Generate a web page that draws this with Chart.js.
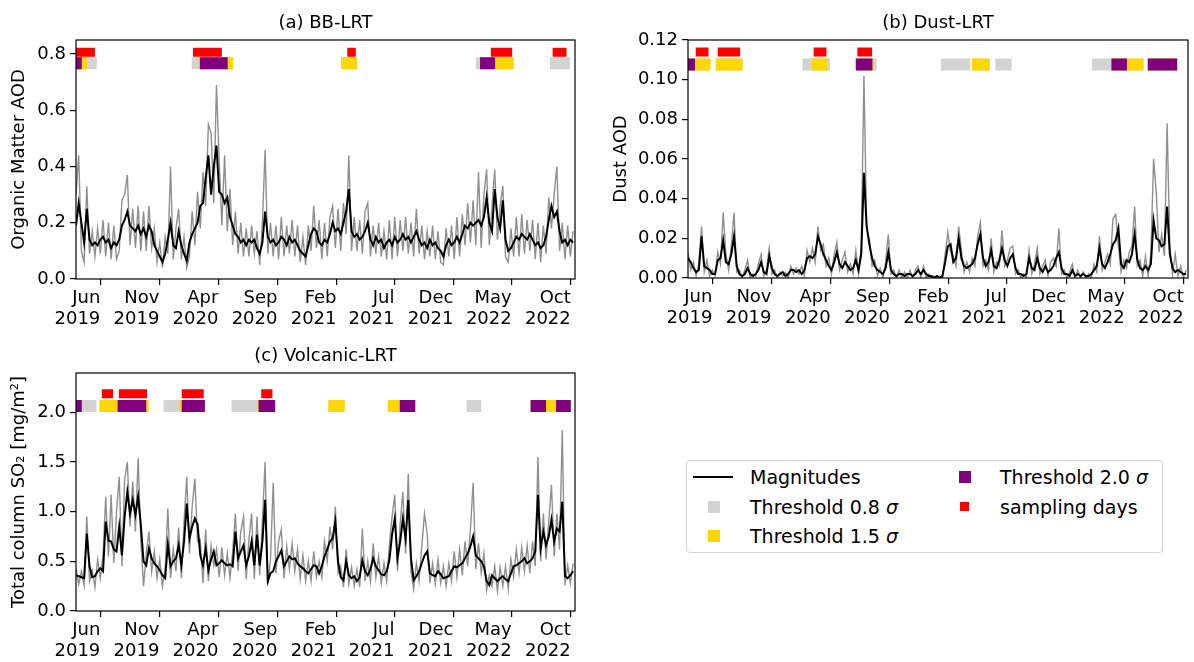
<!DOCTYPE html>
<html>
<head>
<meta charset="utf-8">
<script src="https://cdn.jsdelivr.net/npm/chart.js@4.4.1/dist/chart.umd.min.js"></script>
<style>
  body { margin: 0; background: #fff; }
  #wrap { position: relative; width: 1194px; height: 662px; font-family: 'DejaVu Sans', sans-serif; color: #000; }
  #wrap canvas { position: absolute; }
  #legend { position: absolute; left: 686px; top: 460px; width: 477px; height: 93px; box-sizing: border-box;
            border: 1px solid #d4d4d4; border-radius: 4px; font-size: 19px; }
  #legend .sw { position: absolute; }
  #legend .lbl { position: absolute; height: 24px; line-height: 24px; white-space: nowrap; }
</style>
</head>
<body>
<div id="wrap">
  <canvas id="bbChart" width="597" height="331" style="left:0;top:0"></canvas>
  <canvas id="dustChart" width="597" height="331" style="left:597px;top:0"></canvas>
  <canvas id="volcChart" width="597" height="331" style="left:0;top:331px"></canvas>
  <div id="legend">
    <div class="sw" style="left:6px;top:15px;width:40px;height:2px;background:#000"></div>
    <div class="lbl" style="left:63px;top:4px">Magnitudes</div>
    <div class="sw" style="left:21px;top:40px;width:12px;height:12px;background:#d3d3d3"></div>
    <div class="lbl" style="left:63px;top:34px">Threshold 0.8 <i>σ</i></div>
    <div class="sw" style="left:21px;top:69px;width:12px;height:12px;background:#ffd700"></div>
    <div class="lbl" style="left:63px;top:63px">Threshold 1.5 <i>σ</i></div>
    <div class="sw" style="left:272px;top:10px;width:12px;height:12px;background:#800080"></div>
    <div class="lbl" style="left:313px;top:4px">Threshold 2.0 <i>σ</i></div>
    <div class="sw" style="left:273px;top:41px;width:9px;height:9px;background:#ff0000"></div>
    <div class="lbl" style="left:313px;top:34px">sampling days</div>
  </div>
</div>
<script>
Chart.defaults.font.family = "'DejaVu Sans', sans-serif";
Chart.defaults.font.size = 18;
Chart.defaults.color = '#000';
Chart.defaults.animation = false;

// weekly samples, day 0 = 30 Mar 2019
const weekDays = Array.from({ length: 185 }, (_, i) => i * 7);
const tickDays = [63, 216, 369, 522, 675, 825, 978, 1129, 1282];
const tickLabels = [['Jun', '2019'], ['Nov', '2019'], ['Apr', '2020'], ['Sep', '2020'], ['Feb', '2021'],
                    ['Jul', '2021'], ['Dec', '2021'], ['May', '2022'], ['Oct', '2022']];

// (a) BB-LRT, organic matter AOD
const bbMagnitude = [
  0.19,0.27,0.20,0.13,0.25,0.14,0.12,0.13,0.12,0.14,
  0.15,0.13,0.14,0.11,0.13,0.12,0.14,0.19,0.21,0.24,
  0.19,0.18,0.17,0.19,0.16,0.18,0.15,0.19,0.17,0.12,
  0.10,0.08,0.06,0.09,0.14,0.20,0.12,0.11,0.17,0.12,
  0.09,0.065,0.13,0.16,0.18,0.20,0.26,0.27,0.36,0.44,
  0.30,0.40,0.475,0.31,0.30,0.27,0.29,0.22,0.19,0.16,
  0.15,0.13,0.14,0.12,0.14,0.13,0.14,0.11,0.09,0.13,
  0.24,0.15,0.13,0.14,0.12,0.13,0.15,0.14,0.12,0.15,
  0.13,0.14,0.12,0.10,0.09,0.08,0.12,0.16,0.18,0.17,
  0.13,0.12,0.14,0.13,0.16,0.20,0.17,0.18,0.16,0.20,
  0.24,0.32,0.17,0.15,0.16,0.14,0.15,0.17,0.20,0.14,
  0.12,0.15,0.13,0.14,0.11,0.13,0.14,0.12,0.15,0.13,
  0.14,0.16,0.14,0.15,0.13,0.15,0.17,0.14,0.12,0.13,
  0.11,0.14,0.12,0.13,0.11,0.10,0.08,0.12,0.14,0.12,
  0.13,0.15,0.13,0.16,0.19,0.18,0.20,0.19,0.20,0.21,
  0.19,0.22,0.29,0.20,0.17,0.32,0.22,0.18,0.28,0.14,
  0.10,0.11,0.13,0.15,0.14,0.16,0.15,0.14,0.16,0.14,
  0.12,0.13,0.11,0.12,0.15,0.21,0.26,0.22,0.24,0.17,
  0.13,0.14,0.12,0.14,0.13
];
const bbDaily = [
  0.30,0.44,0.10,0.06,0.33,0.09,0.17,0.08,0.18,0.09,
  0.21,0.08,0.20,0.07,0.19,0.07,0.10,0.28,0.30,0.37,
  0.12,0.25,0.11,0.26,0.10,0.24,0.10,0.26,0.11,0.18,
  0.06,0.13,0.04,0.15,0.09,0.40,0.07,0.18,0.25,0.07,
  0.15,0.04,0.08,0.24,0.12,0.31,0.18,0.38,0.26,0.55,
  0.52,0.27,0.69,0.42,0.19,0.44,0.17,0.32,0.12,0.24,
  0.09,0.20,0.08,0.18,0.08,0.19,0.09,0.17,0.05,0.20,
  0.46,0.09,0.20,0.08,0.19,0.07,0.22,0.08,0.19,0.09,
  0.21,0.08,0.19,0.06,0.15,0.05,0.19,0.10,0.26,0.11,
  0.21,0.07,0.20,0.08,0.22,0.26,0.11,0.25,0.10,0.27,
  0.16,0.44,0.10,0.22,0.10,0.21,0.09,0.24,0.27,0.08,
  0.19,0.09,0.20,0.08,0.17,0.07,0.21,0.07,0.22,0.08,
  0.21,0.10,0.22,0.09,0.20,0.08,0.25,0.09,0.19,0.07,
  0.17,0.08,0.19,0.07,0.17,0.06,0.05,0.18,0.08,0.19,
  0.07,0.22,0.08,0.23,0.12,0.27,0.13,0.28,0.12,0.38,
  0.11,0.30,0.39,0.12,0.26,0.39,0.14,0.26,0.33,0.08,
  0.06,0.18,0.08,0.22,0.08,0.23,0.09,0.21,0.10,0.21,
  0.07,0.20,0.06,0.19,0.09,0.29,0.18,0.30,0.40,0.10,
  0.20,0.07,0.19,0.08,0.17
];
const bbGray = [[0, 54], [300, 407], [687, 728], [1036, 1134], [1228, 1280]];
const bbYellow = [[0, 28], [318, 407], [687, 728], [1047, 1134]];
const bbPurple = [[0, 15], [321, 393], [1047, 1086]];
const bbSampling = [[0, 49], [303, 378], [703, 725], [1075, 1130], [1235, 1271]];

// (b) Dust-LRT, dust AOD
const dustMagnitude = [
  0.010,0.008,0.005,0.003,0.004,0.021,0.006,0.005,0.004,0.002,
  0.002,0.009,0.010,0.019,0.008,0.007,0.012,0.021,0.006,0.002,
  0.001,0.002,0.005,0.002,0.001,0.002,0.004,0.008,0.003,0.002,
  0.011,0.005,0.002,0.001,0.002,0.003,0.001,0.002,0.004,0.004,
  0.003,0.004,0.002,0.004,0.010,0.011,0.010,0.012,0.021,0.017,
  0.012,0.009,0.006,0.004,0.008,0.013,0.007,0.005,0.008,0.006,
  0.004,0.005,0.009,0.004,0.012,0.053,0.026,0.017,0.010,0.006,
  0.004,0.003,0.002,0.005,0.013,0.004,0.002,0.001,0.002,0.002,
  0.001,0.002,0.002,0.001,0.002,0.004,0.002,0.004,0.002,0.001,
  0.001,0.000,0.001,0.000,0.001,0.008,0.016,0.017,0.008,0.010,
  0.020,0.010,0.006,0.005,0.006,0.007,0.010,0.017,0.022,0.010,
  0.006,0.008,0.014,0.006,0.005,0.009,0.015,0.009,0.006,0.010,
  0.012,0.005,0.002,0.002,0.001,0.002,0.010,0.005,0.004,0.010,
  0.005,0.003,0.006,0.003,0.004,0.006,0.010,0.013,0.005,0.002,
  0.002,0.001,0.004,0.001,0.002,0.001,0.002,0.001,0.001,0.002,
  0.004,0.006,0.015,0.007,0.005,0.008,0.012,0.017,0.019,0.025,
  0.007,0.005,0.009,0.008,0.012,0.022,0.009,0.005,0.004,0.006,
  0.004,0.007,0.029,0.020,0.019,0.016,0.017,0.036,0.012,0.005,
  0.003,0.004,0.003,0.002,0.002
];
const dustDaily = [
  0.013,0.004,0.008,0.001,0.007,0.026,0.003,0.009,0.001,0.004,
  0.001,0.013,0.007,0.033,0.012,0.004,0.016,0.033,0.003,0.004,
  0.000,0.004,0.009,0.000,0.002,0.001,0.007,0.012,0.001,0.004,
  0.015,0.002,0.004,0.000,0.003,0.001,0.003,0.000,0.006,0.002,
  0.005,0.002,0.006,0.001,0.014,0.008,0.015,0.008,0.026,0.014,
  0.017,0.006,0.010,0.002,0.012,0.018,0.004,0.009,0.013,0.003,
  0.007,0.002,0.014,0.002,0.016,0.102,0.025,0.020,0.006,0.009,
  0.001,0.005,0.000,0.008,0.022,0.002,0.004,0.000,0.004,0.000,
  0.003,0.000,0.004,0.000,0.004,0.006,0.000,0.006,0.000,0.002,
  0.000,0.001,0.000,0.001,0.000,0.012,0.023,0.013,0.011,0.006,
  0.026,0.014,0.003,0.008,0.003,0.010,0.006,0.021,0.028,0.006,
  0.009,0.004,0.020,0.003,0.008,0.006,0.024,0.006,0.009,0.015,
  0.016,0.002,0.004,0.000,0.002,0.000,0.014,0.002,0.007,0.015,
  0.002,0.006,0.009,0.001,0.008,0.010,0.006,0.025,0.002,0.004,
  0.000,0.003,0.007,0.000,0.004,0.000,0.003,0.000,0.002,0.000,
  0.007,0.003,0.021,0.004,0.008,0.012,0.007,0.030,0.032,0.016,
  0.003,0.009,0.005,0.013,0.016,0.036,0.006,0.009,0.001,0.011,
  0.001,0.012,0.060,0.043,0.013,0.022,0.011,0.078,0.016,0.002,
  0.012,0.001,0.006,0.000,0.004
];
const dustGray = [[0, 58], [72, 141], [296, 367], [434, 488], [654, 730], [734, 780], [795, 837], [1045, 1178], [1189, 1265]];
const dustYellow = [[0, 58], [72, 141], [320, 361], [434, 480], [734, 780], [1095, 1178], [1189, 1265]];
const dustPurple = [[0, 18], [434, 477], [1095, 1135], [1189, 1265]];
const dustSampling = [[20, 53], [77, 135], [325, 358], [438, 476]];

// (c) Volcanic-LRT, total column SO2
const volcMagnitude = [
  0.36,0.35,0.34,0.33,0.78,0.45,0.34,0.35,0.40,0.43,
  0.40,0.90,0.71,0.70,0.62,0.60,0.85,0.56,0.95,1.20,
  0.98,1.12,0.97,1.15,0.87,0.50,0.46,0.63,0.53,0.48,
  0.45,0.41,0.36,0.33,0.67,0.45,0.50,0.53,0.66,0.46,
  0.70,1.08,0.73,0.85,0.93,0.87,0.56,0.46,0.63,0.41,
  0.52,0.60,0.46,0.48,0.51,0.48,0.46,0.47,0.45,0.80,
  0.53,0.60,0.66,0.46,0.55,0.70,0.46,0.77,0.46,0.70,
  1.12,0.30,0.38,0.40,0.50,0.55,0.61,0.45,0.50,0.55,
  0.52,0.53,0.48,0.45,0.43,0.40,0.38,0.42,0.46,0.45,
  0.38,0.45,0.55,0.62,0.70,0.73,0.90,0.50,0.34,0.31,
  0.50,0.36,0.33,0.35,0.30,0.34,0.51,0.40,0.36,0.42,
  0.53,0.45,0.41,0.37,0.36,0.40,0.51,0.77,0.93,0.53,
  0.70,0.93,0.73,1.12,0.53,0.31,0.35,0.40,0.48,0.56,
  0.60,0.38,0.36,0.35,0.40,0.37,0.33,0.34,0.35,0.40,
  0.45,0.44,0.46,0.48,0.53,0.58,0.65,0.75,0.56,0.53,
  0.50,0.45,0.30,0.26,0.36,0.33,0.30,0.33,0.35,0.32,
  0.30,0.38,0.45,0.46,0.48,0.50,0.53,0.48,0.50,0.53,
  0.60,1.17,0.63,0.80,0.66,0.75,0.92,0.70,0.83,0.80,
  1.10,0.35,0.33,0.36,0.40
];
const volcDaily = [
  0.42,0.27,0.40,0.26,0.95,0.30,0.41,0.24,0.52,0.33,
  0.56,1.15,0.55,1.17,0.48,1.00,1.35,0.45,1.32,1.50,
  0.85,1.30,0.80,1.54,0.70,0.25,0.58,0.80,0.40,0.60,
  0.33,0.52,0.25,0.42,1.03,0.33,0.62,0.40,0.84,0.33,
  0.90,1.35,0.58,1.05,1.33,0.70,0.72,0.28,0.82,0.30,
  0.66,0.46,0.62,0.34,0.64,0.36,0.58,0.33,0.60,0.98,
  0.40,0.80,0.95,0.32,0.72,0.98,0.32,0.95,0.36,0.90,
  1.50,0.27,0.52,1.29,0.38,0.70,0.82,0.33,0.65,0.42,
  0.68,0.40,0.62,0.32,0.56,0.30,0.50,0.30,0.60,0.34,
  0.50,0.34,0.70,0.50,0.85,0.62,1.05,0.38,0.45,0.24,
  0.62,0.27,0.44,0.25,0.42,0.24,0.83,0.30,0.50,0.30,
  0.68,0.34,0.55,0.28,0.48,0.30,0.66,0.95,1.17,0.40,
  0.88,1.20,0.58,1.38,0.40,0.22,0.48,0.30,0.65,0.98,
  0.78,0.28,0.48,0.27,0.52,0.28,0.45,0.25,0.48,0.30,
  0.60,0.34,0.62,0.36,0.70,0.45,0.82,1.29,0.42,0.68,
  0.38,0.58,0.21,0.36,0.25,0.45,0.20,0.44,0.25,0.45,
  0.22,0.52,0.34,0.62,0.38,0.64,0.40,0.66,0.38,0.70,
  0.45,1.55,0.50,0.98,0.52,0.90,1.27,0.55,0.98,0.62,
  1.82,0.26,0.46,0.28,0.48
];
const volcGray = [[0, 53], [61, 188], [227, 334], [403, 516], [654, 696], [808, 879], [1012, 1050], [1178, 1282]];
const volcYellow = [[61, 188], [268, 334], [471, 516], [654, 696], [808, 879], [1178, 1282]];
const volcPurple = [[0, 15], [108, 182], [274, 334], [473, 516], [839, 879], [1178, 1218], [1244, 1282]];
const volcSampling = [[67, 96], [111, 184], [274, 331], [480, 509]];

// frame around the axes + panel title
const framePlugin = {
  id: 'frame',
  afterDatasetsDraw(chart, args, opts) {
    const { ctx, chartArea: a } = chart;
    ctx.save();
    ctx.strokeStyle = '#000';
    ctx.lineWidth = 1.2;
    ctx.strokeRect(a.left, a.top, a.width, a.height);
    ctx.fillStyle = '#000';
    ctx.font = "18px 'DejaVu Sans'";
    ctx.textAlign = 'center';
    ctx.textBaseline = 'middle';
    ctx.fillText(opts.text, (a.left + a.right) / 2, a.top - 17);
    ctx.restore();
  }
};

function rangeLine(ranges, level) {
  return ranges.flatMap(([s, e]) => [{ x: s, y: level }, { x: e, y: level }, { x: e, y: null }]);
}

function series(values) {
  return weekDays.map((d, i) => ({ x: d, y: values[i] }));
}

function makePanel(id, cfg) {
  const tickGrid = { drawOnChartArea: false, drawTicks: true, tickLength: 6, color: '#000', lineWidth: 1.2 };
  const line = { pointRadius: 0, borderCapStyle: 'butt', spanGaps: false, tension: 0 };
  return new Chart(document.getElementById(id), {
    type: 'line',
    data: {
      datasets: [
        { ...line, data: rangeLine(cfg.purple, cfg.rowY), borderColor: '#800080', borderWidth: 12 },
        { ...line, data: rangeLine(cfg.yellow, cfg.rowY), borderColor: '#ffd700', borderWidth: 12 },
        { ...line, data: rangeLine(cfg.gray, cfg.rowY), borderColor: '#d3d3d3', borderWidth: 12 },
        { ...line, data: rangeLine(cfg.sampling, cfg.sampleY), borderColor: '#ff0000', borderWidth: 9 },
        { ...line, data: series(cfg.magnitude), borderColor: '#000', borderWidth: 2 },
        { ...line, data: series(cfg.daily), borderColor: 'rgba(105,105,105,0.75)', borderWidth: 1.4 }
      ]
    },
    options: {
      responsive: false,
      events: [],
      layout: { padding: cfg.padding },
      plugins: {
        legend: { display: false },
        tooltip: { enabled: false },
        frame: { text: cfg.title }
      },
      scales: {
        x: {
          type: 'linear', min: 0, max: 1293,
          afterBuildTicks: s => { s.ticks = tickDays.map(v => ({ value: v })); },
          afterFit: s => { s.height = cfg.xHeight; },
          ticks: { callback: (v, i) => tickLabels[i], align: 'end', padding: 3, maxRotation: 0, autoSkip: false,
                   font: { size: 18, lineHeight: 1.15 } },
          grid: tickGrid,
          border: { display: false }
        },
        y: {
          min: 0, max: cfg.yMax,
          afterBuildTicks: s => { s.ticks = cfg.yTicks.map(v => ({ value: v })); },
          afterFit: s => { s.width = cfg.yWidth; },
          ticks: { callback: v => v.toFixed(cfg.decimals), padding: 4 },
          grid: tickGrid,
          border: { display: false },
          title: { display: true, text: cfg.yTitle, font: { size: 18 }, padding: { top: cfg.yTitlePad, bottom: 0 } }
        }
      }
    },
    plugins: [framePlugin]
  });
}

makePanel('bbChart', {
  title: '(a) BB-LRT', yTitle: 'Organic Matter AOD',
  magnitude: bbMagnitude, daily: bbDaily,
  gray: bbGray, yellow: bbYellow, purple: bbPurple, sampling: bbSampling,
  rowY: 0.767, sampleY: 0.806,
  yMax: 0.85, yTicks: [0, 0.2, 0.4, 0.6, 0.8], decimals: 1,
  yWidth: 76, xHeight: 52, yTitlePad: 9, padding: { top: 40, right: 22, left: 0, bottom: 0 }
});

makePanel('dustChart', {
  title: '(b) Dust-LRT', yTitle: 'Dust AOD',
  magnitude: dustMagnitude, daily: dustDaily,
  gray: dustGray, yellow: dustYellow, purple: dustPurple, sampling: dustSampling,
  rowY: 0.1077, sampleY: 0.114,
  yMax: 0.12, yTicks: [0, 0.02, 0.04, 0.06, 0.08, 0.10, 0.12], decimals: 2,
  yWidth: 91, xHeight: 53, yTitlePad: 14, padding: { top: 40, right: 6, left: 0, bottom: 0 }
});

makePanel('volcChart', {
  title: '(c) Volcanic-LRT', yTitle: 'Total column SO₂ [mg/m²]',
  magnitude: volcMagnitude, daily: volcDaily,
  gray: volcGray, yellow: volcYellow, purple: volcPurple, sampling: volcSampling,
  rowY: 2.062, sampleY: 2.186,
  yMax: 2.395, yTicks: [0, 0.5, 1.0, 1.5, 2.0], decimals: 1,
  yWidth: 76, xHeight: 51, yTitlePad: 9, padding: { top: 42, right: 22, left: 0, bottom: 0 }
});
</script>
</body>
</html>
